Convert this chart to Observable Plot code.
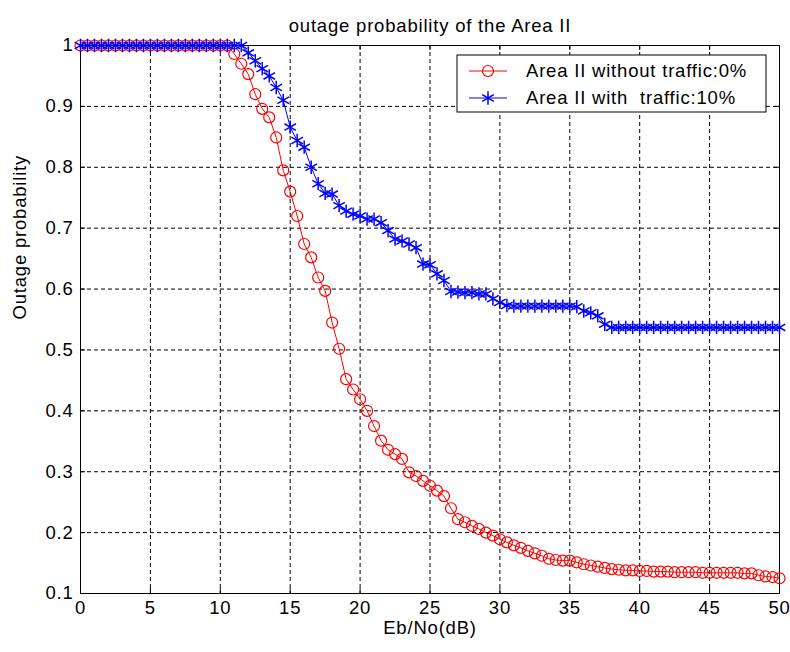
<!DOCTYPE html>
<html>
<head>
<meta charset="utf-8">
<script src="https://cdn.jsdelivr.net/npm/d3@7"></script>
<script src="https://cdn.jsdelivr.net/npm/@observablehq/plot@0.6"></script>
<style>
  html, body { margin: 0; padding: 0; background: #fff; }
  #chart { width: 790px; height: 652px; }
  #chart svg text { letter-spacing: 0.8px; }
</style>
</head>
<body>
<div id="chart"></div>
<script>
// Eb/No sample points (dB)
const ebNo = [
  0, 0.5, 1, 1.5, 2, 2.5, 3, 3.5, 4, 4.5,
  5, 5.5, 6, 6.5, 7, 7.5, 8, 8.5, 9, 9.5,
  10, 10.5, 11, 11.5, 12, 12.5, 13, 13.5, 14, 14.5,
  15, 15.5, 16, 16.5, 17, 17.5, 18, 18.5, 19, 19.5,
  20, 20.5, 21, 21.5, 22, 22.5, 23, 23.5, 24, 24.5,
  25, 25.5, 26, 26.5, 27, 27.5, 28, 28.5, 29, 29.5,
  30, 30.5, 31, 31.5, 32, 32.5, 33, 33.5, 34, 34.5,
  35, 35.5, 36, 36.5, 37, 37.5, 38, 38.5, 39, 39.5,
  40, 40.5, 41, 41.5, 42, 42.5, 43, 43.5, 44, 44.5,
  45, 45.5, 46, 46.5, 47, 47.5, 48, 48.5, 49, 49.5,
  50
];

// Outage probability, Area II without traffic (0%)
const outageNoTraffic = [
  1, 1, 1, 1, 1, 1, 1, 1, 1, 1,
  1, 1, 1, 1, 1, 1, 1, 1, 1, 1,
  1, 1, 0.986, 0.970, 0.953, 0.920, 0.896, 0.882, 0.849, 0.795,
  0.760, 0.720, 0.674, 0.652, 0.619, 0.597, 0.545, 0.502, 0.452, 0.435,
  0.419, 0.400, 0.375, 0.351, 0.336, 0.329, 0.321, 0.299, 0.293, 0.285,
  0.277, 0.269, 0.260, 0.240, 0.222, 0.217, 0.211, 0.206, 0.200, 0.195,
  0.189, 0.184, 0.179, 0.175, 0.170, 0.166, 0.162, 0.157, 0.155, 0.154,
  0.154, 0.151, 0.148, 0.146, 0.144, 0.142, 0.140, 0.139, 0.138, 0.138,
  0.137, 0.137, 0.136, 0.136, 0.136, 0.135, 0.135, 0.135, 0.135, 0.134,
  0.134, 0.134, 0.134, 0.134, 0.134, 0.133, 0.133, 0.130, 0.128, 0.127,
  0.125
];

// Outage probability, Area II with traffic (10%)
const outageTraffic10 = [
  1, 1, 1, 1, 1, 1, 1, 1, 1, 1,
  1, 1, 1, 1, 1, 1, 1, 1, 1, 1,
  1, 1, 1, 1, 0.988, 0.975, 0.962, 0.950, 0.931, 0.910,
  0.866, 0.844, 0.833, 0.800, 0.773, 0.757, 0.756, 0.737, 0.728, 0.723,
  0.720, 0.715, 0.715, 0.709, 0.696, 0.682, 0.679, 0.674, 0.668, 0.641,
  0.640, 0.625, 0.614, 0.596, 0.595, 0.594, 0.594, 0.592, 0.592, 0.584,
  0.578, 0.573, 0.572, 0.572, 0.572, 0.572, 0.572, 0.572, 0.572, 0.572,
  0.572, 0.571, 0.564, 0.561, 0.556, 0.542, 0.537, 0.537, 0.537, 0.537,
  0.537, 0.537, 0.537, 0.537, 0.537, 0.537, 0.537, 0.537, 0.537, 0.537,
  0.537, 0.537, 0.537, 0.537, 0.537, 0.537, 0.537, 0.537, 0.537, 0.537,
  0.537
];

const xTicks = [0, 5, 10, 15, 20, 25, 30, 35, 40, 45, 50];
const yTicks = [0.1, 0.2, 0.3, 0.4, 0.5, 0.6, 0.7, 0.8, 0.9, 1];
const yTickLabels = ["0.1", "0.2", "0.3", "0.4", "0.5", "0.6", "0.7", "0.8", "0.9", "1"];

const titleText = "outage probability of the Area II";
const xLabel = "Eb/No(dB)";
const yLabel = "Outage probability";
const seriesNames = ["Area II without traffic:0%", "Area II with  traffic:10%"];

const noTraffic = ebNo.map((x, i) => ({x, y: outageNoTraffic[i]}));
const traffic10 = ebNo.map((x, i) => ({x, y: outageTraffic10[i]}));

const W = 790, H = 652;
const mTop = 45, mRight = 11, mBottom = 59, mLeft = 80;
const frameW = W - mLeft - mRight;
const frameH = H - mTop - mBottom;
const tickLen = 5;
const font = "'Liberation Sans', Arial, Helvetica, sans-serif";
const fontSize = 18.5;
const circleR = 5.5;
const starR = 6.3;

const chart = Plot.plot({
  width: W,
  height: H,
  marginTop: mTop,
  marginRight: mRight,
  marginBottom: mBottom,
  marginLeft: mLeft,
  style: {fontFamily: font, fontSize: fontSize + "px", color: "#000", background: "#fff", overflow: "visible"},
  x: {domain: [0, 50]},
  y: {domain: [0.1, 1]},
  marks: [
    // dashed grid
    Plot.gridX(xTicks, {stroke: "#000", strokeOpacity: 1, strokeWidth: 1, strokeDasharray: "4,3"}),
    Plot.gridY(yTicks, {stroke: "#000", strokeOpacity: 1, strokeWidth: 1, strokeDasharray: "4,3"}),
    // inward tick marks on all four sides
    Plot.tickX(xTicks, {x: d => d, stroke: "#000", insetTop: frameH - tickLen}),
    Plot.tickX(xTicks, {x: d => d, stroke: "#000", insetBottom: frameH - tickLen}),
    Plot.tickY(yTicks, {y: d => d, stroke: "#000", insetRight: frameW - tickLen}),
    Plot.tickY(yTicks, {y: d => d, stroke: "#000", insetLeft: frameW - tickLen}),
    Plot.frame({stroke: "#000", strokeWidth: 1}),
    // tick labels
    Plot.axisX(xTicks, {tickSize: 0, tickPadding: 7, label: null, tickFormat: d => String(d), fontSize: fontSize}),
    Plot.axisY(yTicks, {tickSize: 0, tickPadding: 7, label: null,
      tickFormat: d => yTickLabels[yTicks.indexOf(d)], fontSize: fontSize}),
    // series
    Plot.line(noTraffic, {x: "x", y: "y", stroke: "#ff0000", strokeWidth: 1}),
    Plot.dot(noTraffic, {x: "x", y: "y", r: circleR, stroke: "#ff0000", fill: "none", strokeWidth: 1.2}),
    Plot.line(traffic10, {x: "x", y: "y", stroke: "#0000ff", strokeWidth: 1}),
    Plot.dot(traffic10, {x: "x", y: "y", r: starR, symbol: "asterisk", stroke: "#0000ff", strokeWidth: 1.5}),
    // title and axis labels
    Plot.text([titleText], {frameAnchor: "top", dy: -27, text: d => d, fontSize: fontSize}),
    Plot.text([xLabel], {frameAnchor: "bottom", dy: 40, text: d => d, fontSize: fontSize}),
    Plot.text([yLabel], {frameAnchor: "left", dx: -60, rotate: -90, text: d => d, fontSize: fontSize})
  ]
});

// Legend box in the upper right of the axes
const svg = d3.select(chart);
const lg = svg.append("g")
  .attr("font-family", font)
  .attr("font-size", fontSize)
  .attr("text-anchor", "start");
const box = {x: 457, y: 55, w: 309, h: 57};
lg.append("rect")
  .attr("x", box.x).attr("y", box.y).attr("width", box.w).attr("height", box.h)
  .attr("fill", "#fff").attr("stroke", "#000").attr("stroke-width", 1);
const rows = [
  {name: seriesNames[0], color: "#ff0000", sym: "circle", cy: box.y + 16},
  {name: seriesNames[1], color: "#0000ff", sym: "asterisk", cy: box.y + 43}
];
rows.forEach(r => {
  lg.append("line")
    .attr("x1", box.x + 12).attr("x2", box.x + 50)
    .attr("y1", r.cy).attr("y2", r.cy)
    .attr("stroke", r.color).attr("stroke-width", 1);
  if (r.sym === "circle") {
    lg.append("circle").attr("cx", box.x + 31).attr("cy", r.cy).attr("r", circleR)
      .attr("fill", "none").attr("stroke", r.color).attr("stroke-width", 1.2);
  } else {
    lg.append("path")
      .attr("transform", `translate(${box.x + 31},${r.cy})`)
      .attr("d", d3.symbol(d3.symbolAsterisk, Math.PI * starR * starR)())
      .attr("fill", "none").attr("stroke", r.color).attr("stroke-width", 1.5);
  }
  lg.append("text")
    .attr("x", box.x + 69).attr("y", r.cy).attr("dy", "0.35em")
    .attr("text-anchor", "start")
    .attr("xml:space", "preserve")
    .style("white-space", "pre")
    .text(r.name);
});

document.getElementById("chart").appendChild(chart);
</script>
</body>
</html>
